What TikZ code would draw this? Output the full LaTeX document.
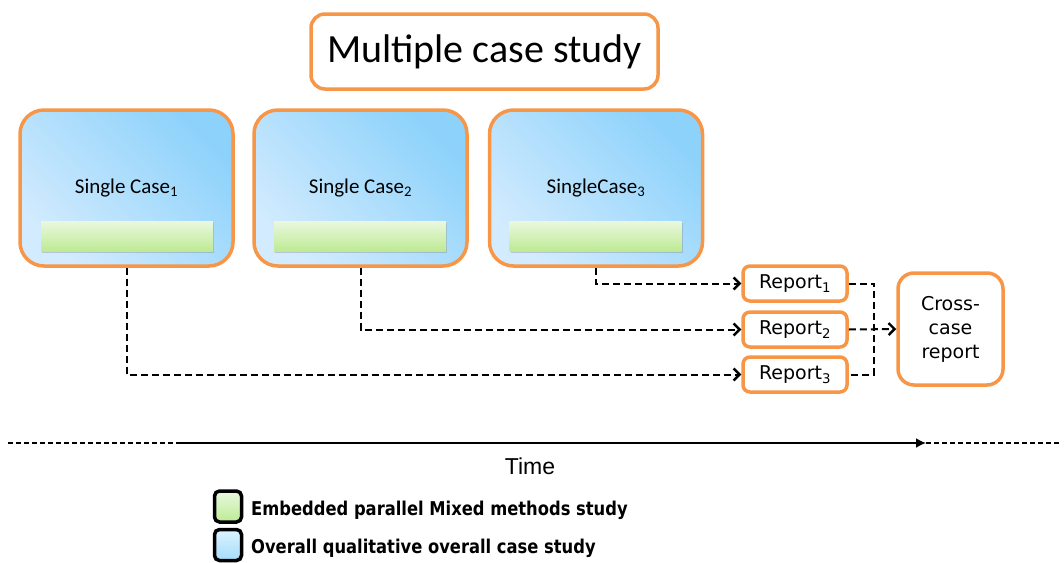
\documentclass[tikz,border=0pt]{standalone}
\usepackage{fontspec}
\setmainfont{Carlito}
\newfontfamily\repfont{DejaVu Sans}
\newfontfamily\legfont[FakeStretch=0.86]{DejaVu Sans}
\newfontfamily\timefont{Liberation Sans}
\usetikzlibrary{arrows.meta,shadows,calc}
\definecolor{frame}{HTML}{F79646}
\definecolor{blueLo}{HTML}{D2EBFE}
\definecolor{blueHi}{HTML}{8DD2FB}
\definecolor{greenLo}{HTML}{BDEB94}
\definecolor{greenHi}{HTML}{EAF8DF}
\definecolor{legBlueHi}{HTML}{DDF4FF}
\definecolor{legBlueLo}{HTML}{A3DCFB}
\tikzset{
  x=1pt, y=-1pt,
  titlebox/.style={draw=frame, line width=3.5pt, rounded corners=14pt, fill=white,
    minimum width=347pt, minimum height=75pt, inner sep=0pt,
    font=\fontsize{40}{44}\selectfont},
  casebox/.style={draw=frame, line width=3.5pt, rounded corners=24pt,
    bottom color=blueLo, top color=blueHi, shading angle=-45,
    minimum width=213pt, minimum height=156pt, inner sep=0pt},
  casetext/.style={font=\fontsize{21}{24}\selectfont},
  mixbar/.style={bottom color=greenLo, top color=greenHi,
    minimum width=172pt, minimum height=30pt, inner sep=0pt,
    drop shadow={shadow xshift=1pt, shadow yshift=-2pt, opacity=0.35}},
  repbox/.style={draw=frame, line width=3.5pt, rounded corners=7pt, fill=white,
    minimum width=104pt, minimum height=35pt, inner sep=0pt,
    font=\repfont\fontsize{19}{22}\selectfont},
  crossbox/.style={draw=frame, line width=3.5pt, rounded corners=16pt, fill=white,
    minimum width=105pt, minimum height=112pt, inner sep=0pt, align=center,
    font=\repfont\fontsize{19}{24}\selectfont},
  flow/.style={dash pattern=on 7pt off 4pt, line width=2pt,
    -{Straight Barb[length=6pt,width=12pt,line width=2.4pt]}},
  link/.style={dash pattern=on 7pt off 4pt, line width=2pt},
  legsq/.style={draw=black, line width=3.5pt, rounded corners=5pt,
    minimum width=27pt, minimum height=31pt, inner sep=0pt},
  legtext/.style={anchor=west, inner sep=0pt,
    font=\legfont\bfseries\fontsize{19}{22}\selectfont}
}
\begin{document}
\begin{tikzpicture}
\useasboundingbox (0,0) rectangle (1064,562);

% heading
\node[titlebox] (title) at (484.5,51.5) {Multiple case study};

% the three single cases, each with its embedded study bar
\node[casebox] (c1) at (126.5,188) {};
\node[casebox] (c2) at (360.5,188) {};
\node[casebox] (c3) at (596,188) {};
\node[casetext] (t1) at (126.5,188) {Single Case\textsubscript{1}};
\node[casetext] (t2) at (360.5,188) {Single Case\textsubscript{2}};
\node[casetext] (t3) at (596,188) {SingleCase\textsubscript{3}};
\node[mixbar] (m1) at (127,236) {};
\node[mixbar] (m2) at (360,236) {};
\node[mixbar] (m3) at (595.5,236) {};

% reports
\node[repbox] (r1) at (795,283.5) {Report\textsubscript{1}};
\node[repbox] (r2) at (795,329.5) {Report\textsubscript{2}};
\node[repbox] (r3) at (795,374.5) {Report\textsubscript{3}};
\node[crossbox] (cr) at (950.5,329) {Cross-\\case\\report};

% cases to reports
\draw[flow] (c3.south) |- (r1.west);
\draw[flow] (c2.south) |- (r2.west);
\draw[flow] (c1.south) |- (r3.west);

% reports to cross-case report
\coordinate (j1) at (874,283.5);
\coordinate (j3) at (874,374.5);
\draw[link] (r1.east) -- (j1) -- (j3) -- (r3.east);
\draw[flow] (r2.east) -- (cr.west);

% time axis
\coordinate (tA) at (8,443);
\coordinate (tB) at (180,443);
\coordinate (tC) at (926,443);
\coordinate (tD) at (1060,443);
\draw[line width=1.6pt, dash pattern=on 5pt off 3pt] (tA) -- (tB);
\draw[line width=1.8pt, -{Latex[length=10pt,width=10pt]}] (tB) -- (tC);
\draw[line width=1.6pt, dash pattern=on 5pt off 3pt] (tC) -- (tD);
\node[font=\timefont\fontsize{23}{26}\selectfont] (time) at (530,466) {Time};

% legend
\node[legsq, top color=greenHi, bottom color=greenLo] (lg) at (228,506.5) {};
\node[legsq, top color=legBlueHi, bottom color=legBlueLo] (lb) at (228,545) {};
\node[legtext] (lgt) at (251,510) {Embedded parallel Mixed methods study};
\node[legtext] (lbt) at (251,548) {Overall qualitative overall case study};
\end{tikzpicture}
\end{document}
